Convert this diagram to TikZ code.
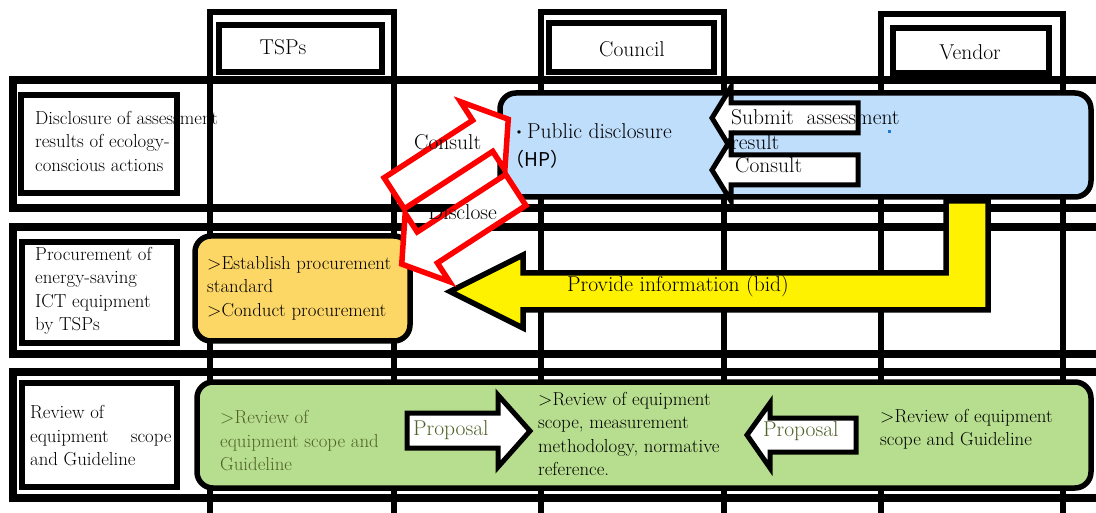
\documentclass[tikz,border=0pt]{standalone}
\usepackage{fontspec}
\newfontfamily\cjkfont{Noto Sans CJK JP}
\definecolor{bluefill}{HTML}{BFDEFB}
\definecolor{orangefill}{HTML}{FDD766}
\definecolor{greenfill}{HTML}{B7DE8E}
\definecolor{dgreen}{HTML}{4F6228}
\definecolor{dotblue}{HTML}{1F78D0}
\begin{document}
\begin{tikzpicture}[x=1pt,y=-1pt,line join=miter,
  colframe/.style={draw=black,line width=5.2pt},
  hdrbox/.style={draw=black,fill=white,line width=5.5pt,inner sep=0pt},
  rowframe/.style={draw=black,line width=8pt},
  lblbox/.style={draw=black,fill=white,line width=5.5pt,inner sep=0pt},
  rbox/.style={draw=black,line width=5.5pt,rounded corners=16pt},
  wharrow/.style={draw=black,fill=white,line width=5pt},
  redarrow/.style={draw=red,fill=white,line width=5.5pt},
  yelarrow/.style={draw=black,fill=yellow,line width=5.5pt},
  smalltxt/.style={font=\fontsize{18.8}{23.5}\selectfont,align=left,inner sep=0pt,anchor=west},
  bigtxt/.style={font=\fontsize{21.5}{25}\selectfont,align=left,inner sep=0pt,anchor=west},
]
\useasboundingbox (0,0) rectangle (1096,513);
\clip (0,0) rectangle (1096,513);
% column frames
\draw[colframe] (210,12) rectangle (394,540);
\draw[colframe] (541,12) rectangle (724,540);
\draw[colframe] (881,14) rectangle (1063,540);
% header boxes
\node[hdrbox,minimum width=163,minimum height=47] (hTSP) at (300.5,48.5) {};
\node[hdrbox,minimum width=165,minimum height=49] (hCouncil) at (631.5,47.5) {};
\node[hdrbox,minimum width=156,minimum height=45] (hVendor) at (971,50.5) {};
\node[bigtxt,anchor=center] (tTSP) at (283,47) {TSPs};
\node[bigtxt,anchor=center] (tCouncil) at (632,49) {Council};
\node[bigtxt,anchor=center] (tVendor) at (970,52) {Vendor};
% row frames
\draw[rowframe] (13,80) rectangle (1115,208);
\draw[rowframe] (13,227) rectangle (1115,354);
\draw[rowframe] (13,372) rectangle (1115,498);
% row label boxes
\node[lblbox,minimum width=156,minimum height=98] (lab1) at (99,144) {};
\node[lblbox,minimum width=155,minimum height=101] (lab2) at (99.5,292.5) {};
\node[lblbox,minimum width=155,minimum height=104] (lab3) at (99.5,435) {};
% rounded content boxes
\draw[rbox,fill=bluefill] (500,93) rectangle (1091,197);
\draw[rbox,fill=orangefill] (195,236) rectangle (410,341);
\draw[rbox,fill=greenfill] (197,382) rectangle (1091,488);
% white arrows in row 1
\draw[wharrow] (858,103) -- (731,103) -- (731,87) -- (712,118) -- (731,149) -- (731,133) -- (858,133) -- cycle;
\draw[wharrow] (858,155) -- (731,155) -- (731,139) -- (712,170) -- (731,201) -- (731,185) -- (858,185) -- cycle;
% white arrows in row 3
\draw[wharrow] (407,413) -- (498,413) -- (498,395) -- (530,431) -- (498,467) -- (498,448) -- (407,448) -- cycle;
\draw[wharrow] (856,418) -- (770,418) -- (770,403) -- (747,435) -- (770,468) -- (770,452) -- (856,452) -- cycle;
% yellow bent arrow
\draw[yelarrow] (946,201) -- (988,201) -- (988,310) -- (523,310) -- (523,328) -- (450,291.5) -- (523,255) -- (523,273) -- (946,273) -- cycle;
% red block arrows
\begin{scope}[shift={(394.2,193.3)},rotate=33]
  \draw[redarrow] (0,-18.5) -- (105.5,-18.5) -- (105.5,-40.7) -- (136,0) -- (105.5,40.7) -- (105.5,18.5) -- (0,18.5) -- cycle;
\end{scope}
\begin{scope}[shift={(515.8,190)},rotate=213]
  \draw[redarrow] (0,-18.5) -- (105.5,-18.5) -- (105.5,-40.7) -- (136,0) -- (105.5,40.7) -- (105.5,18.5) -- (0,18.5) -- cycle;
\end{scope}
% small blue dot
\fill[dotblue] (887.5,130.5) rectangle (890.5,133.5);
% texts
\node[smalltxt] (t1) at (35,141) {Disclosure of assessment\\results of ecology-\\conscious actions};
\node[smalltxt] (t2) at (35,291) {Procurement of\\energy-saving\\ICT equipment\\by TSPs};
\node[smalltxt] (t3) at (30,436) {Review of\\equipment\hspace{22pt}scope\\and Guideline};
\node[bigtxt] (tConsultA) at (414,142) {Consult};
\node[bigtxt] (tDisclose) at (428,212) {Disclose};
\node[bigtxt] (tPub) at (511,131) {{\cjkfont\fontsize{16}{16}\selectfont ・}Public disclosure};
\node[anchor=west,inner sep=0pt,font=\cjkfont\fontsize{19}{19}\selectfont] (tHP) at (505,159) {（HP）};
\node[bigtxt] (tSubmit) at (731,129.5) {Submit\ \ assessment\\result};
\node[bigtxt] (tConsultB) at (735,165) {Consult};
\node[smalltxt] (tOrange) at (207,288) {>Establish procurement\\standard\\>Conduct procurement};
\node[bigtxt] (tProvide) at (567,286) {Provide information (bid)};
\node[smalltxt,text=dgreen] (tGreenL) at (220,441) {>Review of\\equipment scope and\\Guideline};
\node[bigtxt,text=dgreen] (tProp1) at (413,430) {Proposal};
\node[smalltxt] (tMid) at (538,434) {>Review of equipment\\scope, measurement\\methodology, normative\\reference.};
\node[bigtxt,text=dgreen] (tProp2) at (763,431) {Proposal};
\node[smalltxt] (tRight) at (880,429) {>Review of equipment\\scope and Guideline};
\end{tikzpicture}
\end{document}
